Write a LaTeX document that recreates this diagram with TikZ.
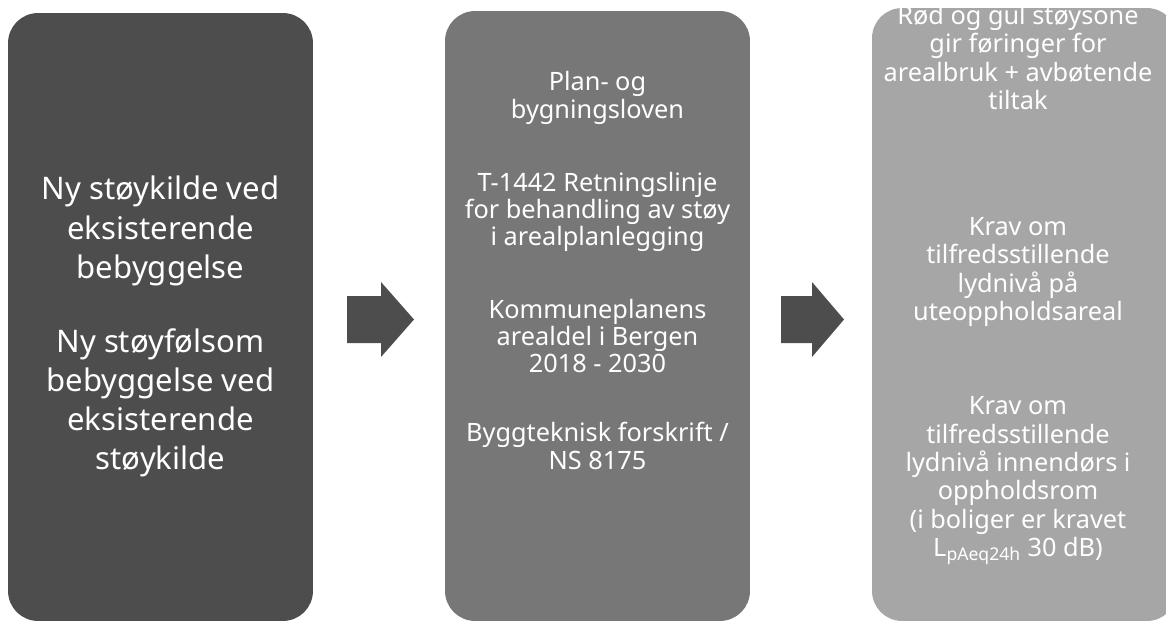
\documentclass[tikz,border=0pt]{standalone}
\usepackage{fontspec}
\setmainfont{Noto Sans}
\usetikzlibrary{positioning}
\definecolor{darkbox}{RGB}{77,77,77}
\definecolor{midbox}{RGB}{119,119,119}
\definecolor{lightbox}{RGB}{166,166,166}

\begin{document}
\begin{tikzpicture}[x=0.02cm, y=-0.02cm,
    box/.style={rounded corners=0.6cm, minimum width=6.1cm, inner sep=0pt},
    bigtext/.style={text=white, align=center, font=\fontsize{17.7}{22.3}\selectfont},
    smalltext/.style={text=white, align=center, font=\fontsize{14.4}{15.5}\selectfont},
    lighttext/.style={text=white, align=center, font=\fontsize{14.4}{16.1}\selectfont}
  ]
  \useasboundingbox (0,0) rectangle (1166,622);
  % the three columns
  \node[box, fill=darkbox, minimum height=12.16cm] (sources) at (160.5,317) {};
  \node[box, fill=midbox, minimum height=12.2cm] (rules) at (597.5,316) {};
  \node[box, fill=lightbox, minimum height=12.26cm] (demands) at (1024.5,314.5) {};
  % block arrows between the columns
  \foreach \a/\b/\c in {347/381/414, 781/812/844}
    \fill[darkbox] (\a,296) -- (\b,296) -- (\b,282) -- (\c,319.5) -- (\b,357) -- (\b,343) -- (\a,343) -- cycle;
  % left column
  \node[bigtext] (newsource) at (160.5,231) {Ny støykilde ved\\eksisterende\\bebyggelse};
  \node[bigtext] (newhousing) at (160.5,403) {Ny støyfølsom\\bebyggelse ved\\eksisterende\\støykilde};
  % middle column
  \node[smalltext] (pbl) at (597.5,98) {Plan- og\\bygningsloven};
  \node[smalltext] (t1442) at (597.5,212) {T-1442 Retningslinje\\for behandling av støy\\i arealplanlegging};
  \node[smalltext] (kpa) at (597.5,336) {Kommuneplanens\\arealdel i Bergen\\2018 - 2030};
  \node[smalltext] (tek) at (597.5,446) {Byggteknisk forskrift /\\NS 8175};
  % right column
  \node[lighttext] (zones) at (1018,57.5) {Rød og gul støysone\\gir føringer for\\arealbruk + avbøtende\\tiltak};
  \node[lighttext] (outdoor) at (1018,272) {Krav om\\tilfredsstillende\\lydnivå på\\uteoppholdsareal};
  \node[lighttext] (indoor) at (1018,481) {Krav om\\tilfredsstillende\\lydnivå innendørs i\\oppholdsrom\\(i boliger er kravet\\L\textsubscript{pAeq24h} 30 dB)};
\end{tikzpicture}
\end{document}
